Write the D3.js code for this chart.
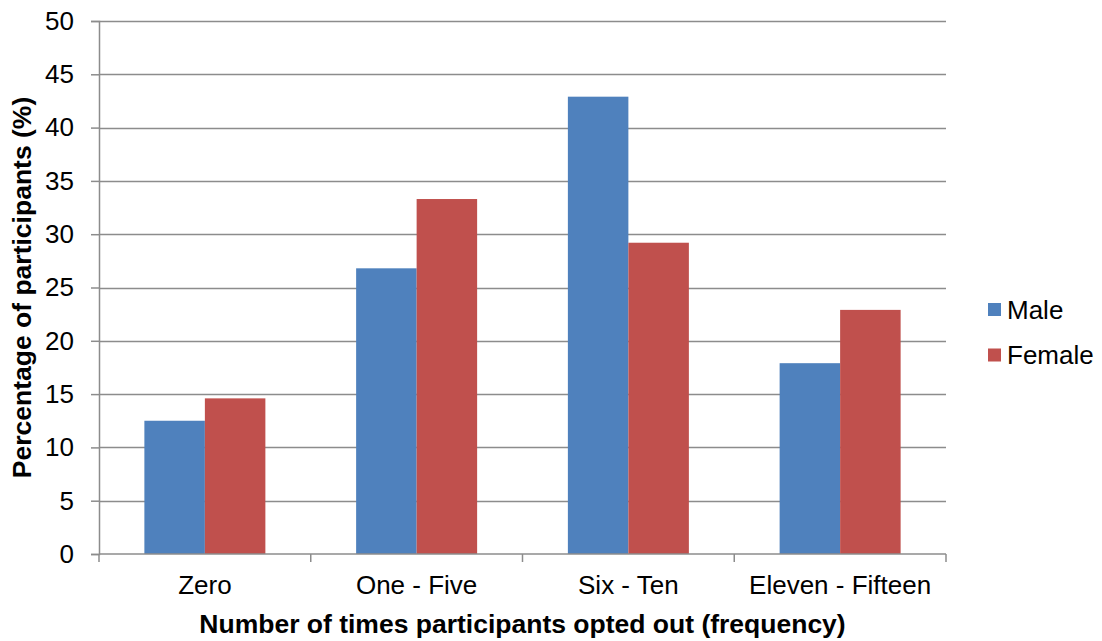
<!DOCTYPE html>
<html>
<head>
<meta charset="utf-8">
<script src="https://cdn.jsdelivr.net/npm/d3@7"></script>
<style>
  html, body { margin: 0; padding: 0; background: #fff; }
  svg text { font-family: "Liberation Sans", Arial, sans-serif; fill: #000; }
</style>
</head>
<body>
<svg id="chart" width="1102" height="641"></svg>
<script>
// Opt-out frequency by gender (% of participants)
const categories = ["Zero", "One - Five", "Six - Ten", "Eleven - Fifteen"];
const seriesNames = ["Male", "Female"];
const maleValues = [12.5, 26.8, 42.9, 17.9];
const femaleValues = [14.6, 33.3, 29.2, 22.9];
const yTicks = [0, 5, 10, 15, 20, 25, 30, 35, 40, 45, 50];
const colors = ["#4f81bd", "#c0504d"];

const series = [maleValues, femaleValues];

const margin = { left: 99, right: 156, top: 21, bottom: 87 };
const width = 1102, height = 641;
const fontSize = 26;
const svg = d3.select("#chart");

const x0 = d3.scaleBand()
  .domain(categories)
  .range([margin.left, width - margin.right])
  .paddingInner(0).paddingOuter(0);

// bars take 2 widths out of 3.5 (150% gap)
const barW = x0.bandwidth() / 3.5;
const x1 = d3.scaleBand()
  .domain(seriesNames)
  .range([0, barW * 2]);

const y = d3.scaleLinear()
  .domain([0, 50])
  .range([height - margin.bottom, margin.top]);

// gridlines
svg.append("g")
  .selectAll("line")
  .data(yTicks.filter(d => d > 0))
  .join("line")
  .attr("x1", margin.left)
  .attr("x2", width - margin.right)
  .attr("y1", d => Math.round(y(d)) + 0.5)
  .attr("y2", d => Math.round(y(d)) + 0.5)
  .attr("stroke", "#8c8c8c")
  .attr("stroke-width", 1.5);

// bars
const groups = svg.append("g")
  .selectAll("g")
  .data(categories)
  .join("g")
  .attr("transform", d => `translate(${x0(d) + (x0.bandwidth() - barW * 2) / 2},0)`);

groups.selectAll("rect")
  .data((d, i) => seriesNames.map((s, k) => ({ s, v: series[k][i], k })))
  .join("rect")
  .attr("x", d => x1(d.s))
  .attr("width", x1.bandwidth())
  .attr("y", d => y(d.v))
  .attr("height", d => y(0) - y(d.v))
  .attr("fill", d => colors[d.k]);

// y axis
const yAxis = d3.axisLeft(y).tickValues(yTicks).tickSize(8).tickPadding(17).tickFormat(d3.format("d"));
const gy = svg.append("g")
  .attr("transform", `translate(${margin.left},0)`)
  .call(yAxis);
gy.select(".domain").attr("stroke", "#8c8c8c").attr("stroke-width", 1.5);
gy.selectAll(".tick line").attr("stroke", "#8c8c8c").attr("stroke-width", 1.5);
gy.selectAll(".tick text").attr("font-size", fontSize).attr("fill", "#000")
  .style("font-family", "'Liberation Sans', Arial, sans-serif");

// x axis with ticks at category boundaries
const xAxisG = svg.append("g").attr("transform", `translate(0,${y(0)})`);
xAxisG.append("line")
  .attr("x1", margin.left).attr("x2", width - margin.right)
  .attr("y1", 0).attr("y2", 0)
  .attr("stroke", "#8c8c8c").attr("stroke-width", 1.5);
const bounds = categories.map(c => x0(c)).concat([x0(categories[categories.length - 1]) + x0.bandwidth()]);
xAxisG.selectAll("line.tk")
  .data(bounds)
  .join("line")
  .attr("class", "tk")
  .attr("x1", d => d).attr("x2", d => d)
  .attr("y1", 0).attr("y2", 8)
  .attr("stroke", "#8c8c8c").attr("stroke-width", 1.5);
xAxisG.selectAll("text")
  .data(categories)
  .join("text")
  .attr("x", d => x0(d) + x0.bandwidth() / 2)
  .attr("y", 40)
  .attr("text-anchor", "middle")
  .attr("font-size", fontSize)
  .text(d => d);

// axis titles
svg.append("text")
  .attr("x", (margin.left + width - margin.right) / 2)
  .attr("y", 633)
  .attr("text-anchor", "middle")
  .attr("font-size", 26.5)
  .attr("font-weight", "bold")
  .text("Number of times participants opted out (frequency)");

svg.append("text")
  .attr("transform", `translate(31,${(margin.top + height - margin.bottom) / 2}) rotate(-90)`)
  .attr("text-anchor", "middle")
  .attr("font-size", 26.5)
  .attr("font-weight", "bold")
  .text("Percentage of participants (%)");

// legend
const legend = svg.append("g")
  .selectAll("g")
  .data(seriesNames)
  .join("g")
  .attr("transform", (d, i) => `translate(988,${303 + i * 45.5})`);
legend.append("rect")
  .attr("width", 13).attr("height", 13)
  .attr("fill", (d, i) => colors[i]);
legend.append("text")
  .attr("x", 19)
  .attr("y", 15.5)
  .attr("font-size", fontSize)
  .text(d => d);
</script>
</body>
</html>
